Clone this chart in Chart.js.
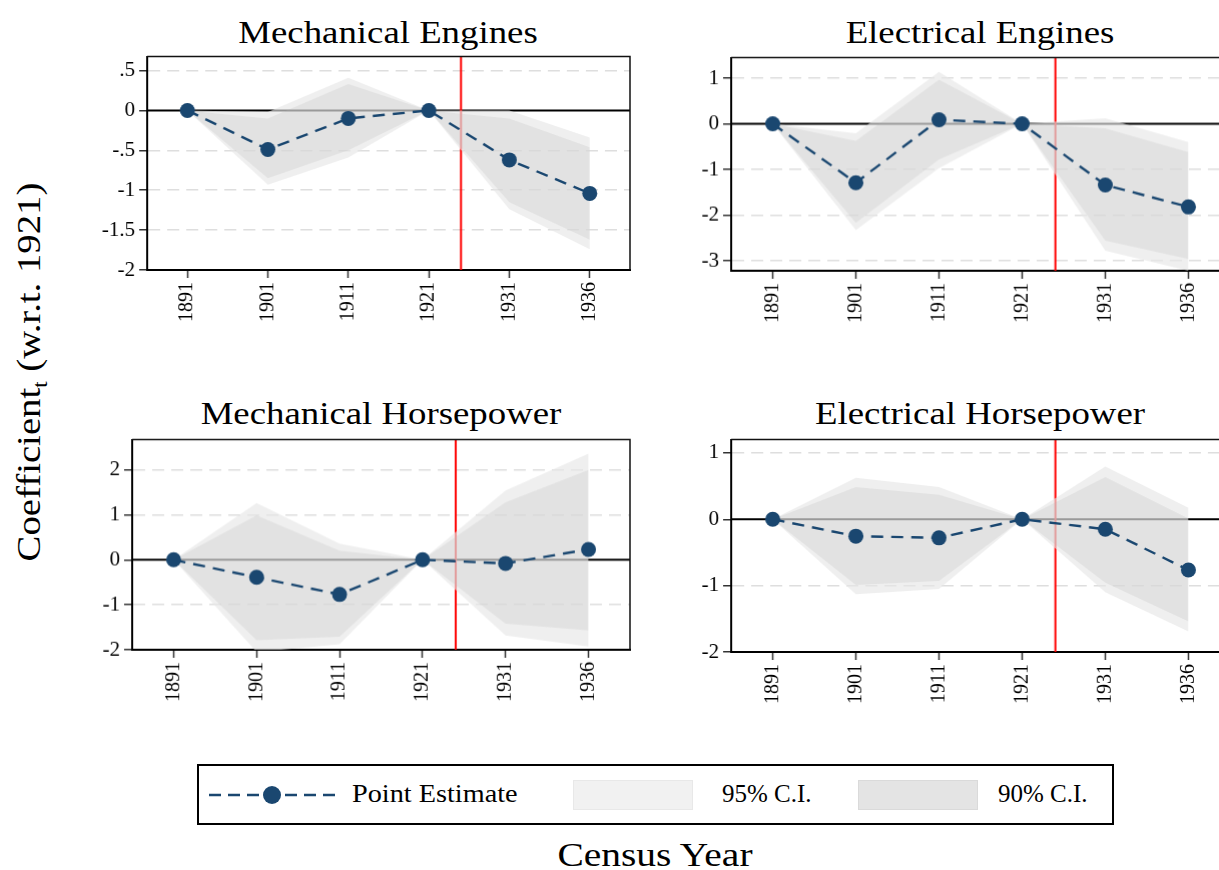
<!DOCTYPE html>
<html>
<head>
<meta charset="utf-8">
<script src="https://cdn.jsdelivr.net/npm/chart.js@4.4.0/dist/chart.umd.min.js"></script>
<style>
  body { margin: 0; width: 1219px; height: 870px; overflow: hidden; background: #fff; position: relative; font-family: 'Liberation Serif', 'DejaVu Serif', serif; color: #000; }
  canvas { position: absolute; }
  .ttl { position: absolute; width: 600px; text-align: center; font-size: 32px; line-height: 32px; white-space: nowrap; transform: scaleX(1.15); }
  #ytitle { position: absolute; left: 31px; top: 372px; font-size: 34px; white-space: nowrap; transform: translate(-50%, -50%) rotate(-90deg) scaleX(1.14); }
  #ytitle sub { font-size: 20px; }
  #xtitle { position: absolute; left: 655px; top: 855px; font-size: 34px; white-space: nowrap; transform: translate(-50%, -50%) scaleX(1.16); }
  #legend { position: absolute; left: 197px; top: 764px; width: 913px; height: 57px; border: 2px solid #000; }
  .lg { position: absolute; font-size: 25px; top: 14px; white-space: nowrap; transform-origin: left center; }
  .sw { position: absolute; top: 14px; width: 118px; height: 28px; }
</style>
</head>
<body>
<div class="ttl" style="left:88px;top:16px">Mechanical Engines</div>
<div class="ttl" style="left:680px;top:16px">Electrical Engines</div>
<div class="ttl" style="left:81px;top:397px">Mechanical Horsepower</div>
<div class="ttl" style="left:680px;top:397px">Electrical Horsepower</div>
<div id="ytitle">Coefficient<sub>t</sub> (w.r.t. 1921)</div>
<div id="xtitle">Census Year</div>
<div id="legend">
  <svg style="position:absolute;left:8px;top:14px" width="130" height="30">
    <line x1="2" y1="15" x2="128" y2="15" stroke="#1a4770" stroke-width="2.5" stroke-dasharray="12,7"></line>
    <circle cx="65" cy="15" r="9" fill="#1a4770"></circle>
  </svg>
  <div class="lg" style="left:153px;transform:scaleX(1.13)">Point Estimate</div>
  <div class="sw" style="left:374px;background:#f1f1f1;border:1px solid #e8e8e8"></div>
  <div class="lg" style="left:523px">95% C.I.</div>
  <div class="sw" style="left:659px;background:#e4e4e4;border:1px solid #dadada"></div>
  <div class="lg" style="left:799px">90% C.I.</div>
</div>
<canvas id="c1"></canvas>
<canvas id="c2"></canvas>
<canvas id="c3"></canvas>
<canvas id="c4"></canvas>
<script>
var years = ['1891', '1901', '1911', '1921', '1931', '1936'];
var reformPos = 3.4; // between 1921 and 1931

// Mechanical Engines
var mechEngEst  = [0, -0.49, -0.10, 0, -0.62, -1.04];
var mechEngHi95 = [0, -0.02,  0.41, 0,  0.00, -0.34];
var mechEngHi90 = [0, -0.10,  0.33, 0, -0.10, -0.46];
var mechEngLo90 = [0, -0.85, -0.50, 0, -1.15, -1.62];
var mechEngLo95 = [0, -0.93, -0.59, 0, -1.24, -1.74];
var mechEngTicks = [-2, -1.5, -1, -0.5, 0, 0.5];

// Electrical Engines
var elecEngEst  = [0, -1.29,  0.09, 0, -1.34, -1.82];
var elecEngHi95 = [0, -0.21,  1.14, 0,  0.12, -0.40];
var elecEngHi90 = [0, -0.37,  0.97, 0, -0.10, -0.62];
var elecEngLo90 = [0, -2.17, -0.78, 0, -2.56, -2.96];
var elecEngLo95 = [0, -2.33, -0.97, 0, -2.78, -3.22];
var elecEngTicks = [-3, -2, -1, 0, 1];

// Mechanical Horsepower
var mechHpEst  = [0, -0.39, -0.77, 0, -0.08, 0.23];
var mechHpHi95 = [0,  1.26,  0.36, 0,  1.54, 2.36];
var mechHpHi90 = [0,  0.99,  0.20, 0,  1.28, 2.00];
var mechHpLo90 = [0, -1.79, -1.71, 0, -1.42, -1.57];
var mechHpLo95 = [0, -2.05, -1.88, 0, -1.68, -1.93];
var mechHpTicks = [-2, -1, 0, 1, 2];

// Electrical Horsepower
var elecHpEst  = [0, -0.255, -0.28, 0, -0.15, -0.765];
var elecHpHi95 = [0,  0.625,  0.485, 0,  0.795, 0.175];
var elecHpHi90 = [0,  0.485,  0.37, 0,  0.635, 0.01];
var elecHpLo90 = [0, -0.99, -0.93, 0, -0.955, -1.54];
var elecHpLo95 = [0, -1.13, -1.05, 0, -1.10, -1.69];
var elecHpTicks = [-2, -1, 0, 1];

var navy = '#1a4770';
var yPad = 80, xPad = 75, topPad = 16, rightPad = 15;

// zero line, reform line, frame
var extras = {
  id: 'extras',
  beforeDatasetsDraw: function(chart) {
    var ctx = chart.ctx, a = chart.chartArea;
    var y0 = chart.scales.y.getPixelForValue(0);
    var xr = chart.scales.x.getPixelForValue(reformPos);
    ctx.save();
    ctx.lineWidth = 2;
    ctx.strokeStyle = '#000';
    ctx.beginPath(); ctx.moveTo(a.left, y0); ctx.lineTo(a.right, y0); ctx.stroke();
    ctx.strokeStyle = '#ff0000';
    ctx.beginPath(); ctx.moveTo(xr, a.top); ctx.lineTo(xr, a.bottom); ctx.stroke();
    ctx.restore();
  },
  afterDraw: function(chart) {
    var ctx = chart.ctx, a = chart.chartArea;
    ctx.save();
    ctx.lineWidth = 1.5;
    ctx.strokeStyle = '#111';
    ctx.beginPath();
    ctx.moveTo(a.left, a.top); ctx.lineTo(a.right, a.top); ctx.lineTo(a.right, a.bottom);
    ctx.stroke();
    ctx.restore();
  }
};

function fmt(v) {
  return String(v).replace('0.', '.');
}

function panel(id, L, T, R, B, est, hi95, hi90, lo90, lo95, ticks, ymin, ymax) {
  var cx = L - yPad, cy = T - topPad;
  var cw = R + rightPad - cx, ch = B + xPad - cy;
  var cv = document.getElementById(id);
  cv.style.left = cx + 'px';
  cv.style.top = cy + 'px';
  cv.width = cw; cv.height = ch;
  cv.style.width = cw + 'px'; cv.style.height = ch + 'px';
  return new Chart(cv.getContext('2d'), {
    type: 'line',
    data: {
      labels: years,
      datasets: [
        { data: est, borderColor: navy, backgroundColor: navy, borderWidth: 2.4, borderDash: [12, 8],
          pointRadius: 7.5, pointBorderWidth: 0, pointBackgroundColor: navy, fill: false, tension: 0 },
        { data: hi90, borderWidth: 0, pointRadius: 0, fill: '+1', backgroundColor: 'rgba(183,183,183,0.22)' },
        { data: lo90, borderWidth: 0, pointRadius: 0, fill: false },
        { data: hi95, borderWidth: 0, pointRadius: 0, fill: '+1', backgroundColor: 'rgba(230,230,230,0.64)' },
        { data: lo95, borderWidth: 0, pointRadius: 0, fill: false }
      ]
    },
    options: {
      responsive: false,
      animation: false,
      layout: { padding: { top: topPad, right: rightPad, left: 0, bottom: 0 } },
      plugins: { legend: { display: false }, tooltip: { enabled: false }, title: { display: false } },
      scales: {
        x: {
          type: 'category',
          offset: true,
          afterFit: function(s) { s.height = xPad; },
          grid: { drawOnChartArea: false, drawTicks: true, tickLength: 8, tickColor: '#333', tickWidth: 1.5, offset: false },
          border: { color: '#000', width: 2 },
          ticks: { minRotation: 90, maxRotation: 90, padding: 4, color: '#000', font: { family: 'Liberation Serif', size: 20 } }
        },
        y: {
          min: ymin, max: ymax,
          afterFit: function(s) { s.width = yPad; },
          afterBuildTicks: function(s) { s.ticks = ticks.map(function(v) { return { value: v }; }); },
          grid: {
            color: function(c) { return c.tick && c.tick.value === 0 ? 'rgba(0,0,0,0)' : '#dedede'; },
            lineWidth: 1.5, drawTicks: true, tickLength: 8, tickColor: '#333', tickWidth: 1.5
          },
          border: { color: '#000', width: 2, dash: [12, 7] },
          ticks: { padding: 4, color: '#000', font: { family: 'Liberation Serif', size: 21 }, callback: function(v) { return fmt(v); } }
        }
      }
    },
    plugins: [extras]
  });
}

panel('c1', 147, 56, 629.5, 270, mechEngEst, mechEngHi95, mechEngHi90, mechEngLo90, mechEngLo95, mechEngTicks, -2, 0.675);
panel('c2', 731, 57, 1229.6, 270.7, elecEngEst, elecEngHi95, elecEngHi90, elecEngLo90, elecEngLo95, elecEngTicks, -3.22, 1.45);
panel('c3', 132.3, 439.3, 630, 650, mechHpEst, mechHpHi95, mechHpHi90, mechHpLo90, mechHpLo95, mechHpTicks, -2, 2.67);
panel('c4', 731, 439, 1229.6, 652.3, elecHpEst, elecHpHi95, elecHpHi90, elecHpLo90, elecHpLo95, elecHpTicks, -2, 1.2);
</script>
</body>
</html>
